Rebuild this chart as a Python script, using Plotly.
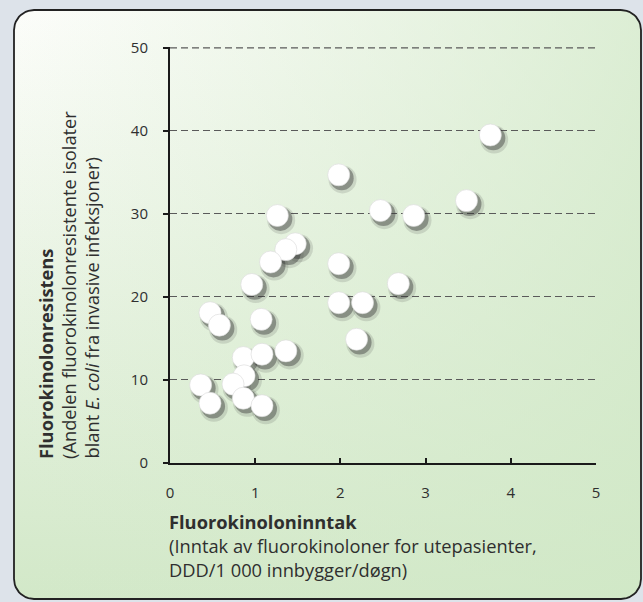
import numpy as np
import plotly.graph_objects as go

# Data
intake = [3.76, 1.98, 3.48, 2.47, 2.86, 1.26, 1.47, 1.36, 1.18, 1.98,
          0.96, 2.68, 0.47, 0.58, 1.07, 1.98, 2.26, 2.19, 0.86, 1.08,
          1.36, 0.87, 0.74, 0.36, 0.47, 0.86, 1.08]
resistance = [39.5, 34.7, 31.6, 30.4, 29.8, 29.8, 26.4, 25.7, 24.2, 24.0,
              21.5, 21.6, 18.1, 16.6, 17.3, 19.3, 19.3, 14.9, 12.7, 13.1,
              13.5, 10.5, 9.5, 9.4, 7.2, 7.8, 6.9]
x_ticks = [0, 1, 2, 3, 4, 5]
y_ticks = [0, 10, 20, 30, 40, 50]

W, H = 643, 602
FONT = "Open Sans"
TXT = "#2f2f2f"
GRID = "#5a5a5a"
DASH = "7px,4px"

# rounded panel outline (paper pixel coords, decorative)
x0, x1, y0, y1, r = 14, 641, 10, 599, 20
def rounded_rect(x0, x1, y0, y1, r, n=12):
    pts = []
    corners = [(x1 - r, y0 + r, -90, 0), (x1 - r, y1 - r, 0, 90),
               (x0 + r, y1 - r, 90, 180), (x0 + r, y0 + r, 180, 270)]
    for cx, cy, a0, a1 in corners:
        for a in np.linspace(np.radians(a0), np.radians(a1), n):
            pts.append((cx + r * np.cos(a), cy + r * np.sin(a)))
    pts.append(pts[0])
    return [p[0] for p in pts], [p[1] for p in pts]

px, py = rounded_rect(x0, x1, y0, y1, r)

fig = go.Figure()
# background gradient panel (subplot xy covering the whole page)
fig.add_trace(go.Scatter(x=px, y=py, mode="lines", fill="toself",
                         line=dict(color="rgba(0,0,0,0)", width=0),
                         fillgradient=dict(type="vertical",
                                           colorscale=[[0, "#d2e8c8"], [1, "#fcfdfa"]]),
                         hoverinfo="skip", showlegend=False,
                         xaxis="x", yaxis="y"))
fig.add_trace(go.Scatter(x=px, y=py, mode="lines", fill="toself",
                         line=dict(color="#222222", width=1.8),
                         fillgradient=dict(type="horizontal",
                                           colorscale=[[0, "rgba(214,235,205,0)"],
                                                       [1, "rgba(208,232,198,0.72)"]]),
                         hoverinfo="skip", showlegend=False,
                         xaxis="x", yaxis="y"))

# shadows for the markers
fig.add_trace(go.Scatter(x=[v + 0.045 for v in intake], y=[v - 0.55 for v in resistance],
                         mode="markers", cliponaxis=False,
                         marker=dict(size=28, color="rgba(70,70,70,0.16)", line=dict(width=0)),
                         hoverinfo="skip", showlegend=False, xaxis="x2", yaxis="y2"))
fig.add_trace(go.Scatter(x=[v + 0.035 for v in intake], y=[v - 0.4 for v in resistance],
                         mode="markers", cliponaxis=False,
                         marker=dict(size=24, color="rgba(50,50,50,0.42)", line=dict(width=0)),
                         hoverinfo="skip", showlegend=False, xaxis="x2", yaxis="y2"))
fig.add_trace(go.Scatter(x=intake, y=resistance, mode="markers", cliponaxis=False,
                         marker=dict(size=22, color="#ffffff",
                                     line=dict(width=0.6, color="#d8d8d8")),
                         showlegend=False, xaxis="x2", yaxis="y2"))

L, R, T, B = 170, 596, 48, 463
fig.update_layout(
    width=W, height=H,
    margin=dict(l=0, r=0, t=0, b=0, autoexpand=False),
    paper_bgcolor="#dde3ea", plot_bgcolor="rgba(0,0,0,0)",
    font=dict(family=FONT, color=TXT),
    xaxis=dict(domain=[0, 1], range=[0, W], visible=False, fixedrange=True,
               automargin=False),
    yaxis=dict(domain=[0, 1], range=[H, 0], visible=False, fixedrange=True,
               automargin=False),
    xaxis2=dict(domain=[L / W, R / W], range=[0, 5], anchor="y2", automargin=False,
                tickvals=x_ticks, ticktext=[str(v) for v in x_ticks],
                showgrid=False, zeroline=False,
                showline=True, linecolor="#1a1a1a", linewidth=2,
                ticks="inside", ticklen=5, tickwidth=1.5, tickcolor="#1a1a1a",
                tickfont=dict(size=15, color=TXT), ticklabelstandoff=15),
    yaxis2=dict(domain=[1 - B / H, 1 - (T - 1) / H], range=[0, 50.1], anchor="x2",
                automargin=False,
                tickvals=y_ticks, ticktext=[str(v) for v in y_ticks],
                showgrid=True, gridcolor=GRID, griddash=DASH, gridwidth=1.2,
                zeroline=False,
                showline=True, linecolor="#1a1a1a", linewidth=2,
                ticks="outside", ticklen=5, tickwidth=1.5, tickcolor="#1a1a1a",
                tickfont=dict(size=15, color=TXT), ticklabelstandoff=12),
)

# top gridline (at the last tick value), which plotly omits at the range edge
fig.add_shape(type="line", xref="x2 domain", yref="y2", x0=0, x1=1,
              y0=y_ticks[-1], y1=y_ticks[-1], layer="above",
              line=dict(color=GRID, width=1.2, dash=DASH))

ann = []
# x title
for i, (txt, bold) in enumerate([("Fluorokinoloninntak", True),
                                 ("(Inntak av fluorokinoloner for utepasienter,", False),
                                 ("DDD/1 000 innbygger/døgn)", False)]):
    ann.append(dict(x=L - 3, y=521 + i * 24, xref="x", yref="y", xanchor="left",
                    yanchor="middle", showarrow=False,
                    text=f"<b>{txt}</b>" if bold else txt,
                    font=dict(size=18.3, color=TXT, family=FONT)))
# y title (rotated)
for i, txt in enumerate(["<b>Fluorokinolonresistens</b>",
                         "(Andelen fluorokinolonresistente isolater",
                         "blant <i>E. coli</i> fra invasive infeksjoner)"]):
    ann.append(dict(x=45 + i * 23, y=461, xref="x", yref="y", xanchor="center",
                    yanchor="bottom", showarrow=False, textangle=-90, text=txt,
                    font=dict(size=18.3, color=TXT, family=FONT)))
fig.update_layout(annotations=ann)

fig.write_html("out.html", config={"displayModeBar": False},
               post_script="document.body.style.margin='0';")
